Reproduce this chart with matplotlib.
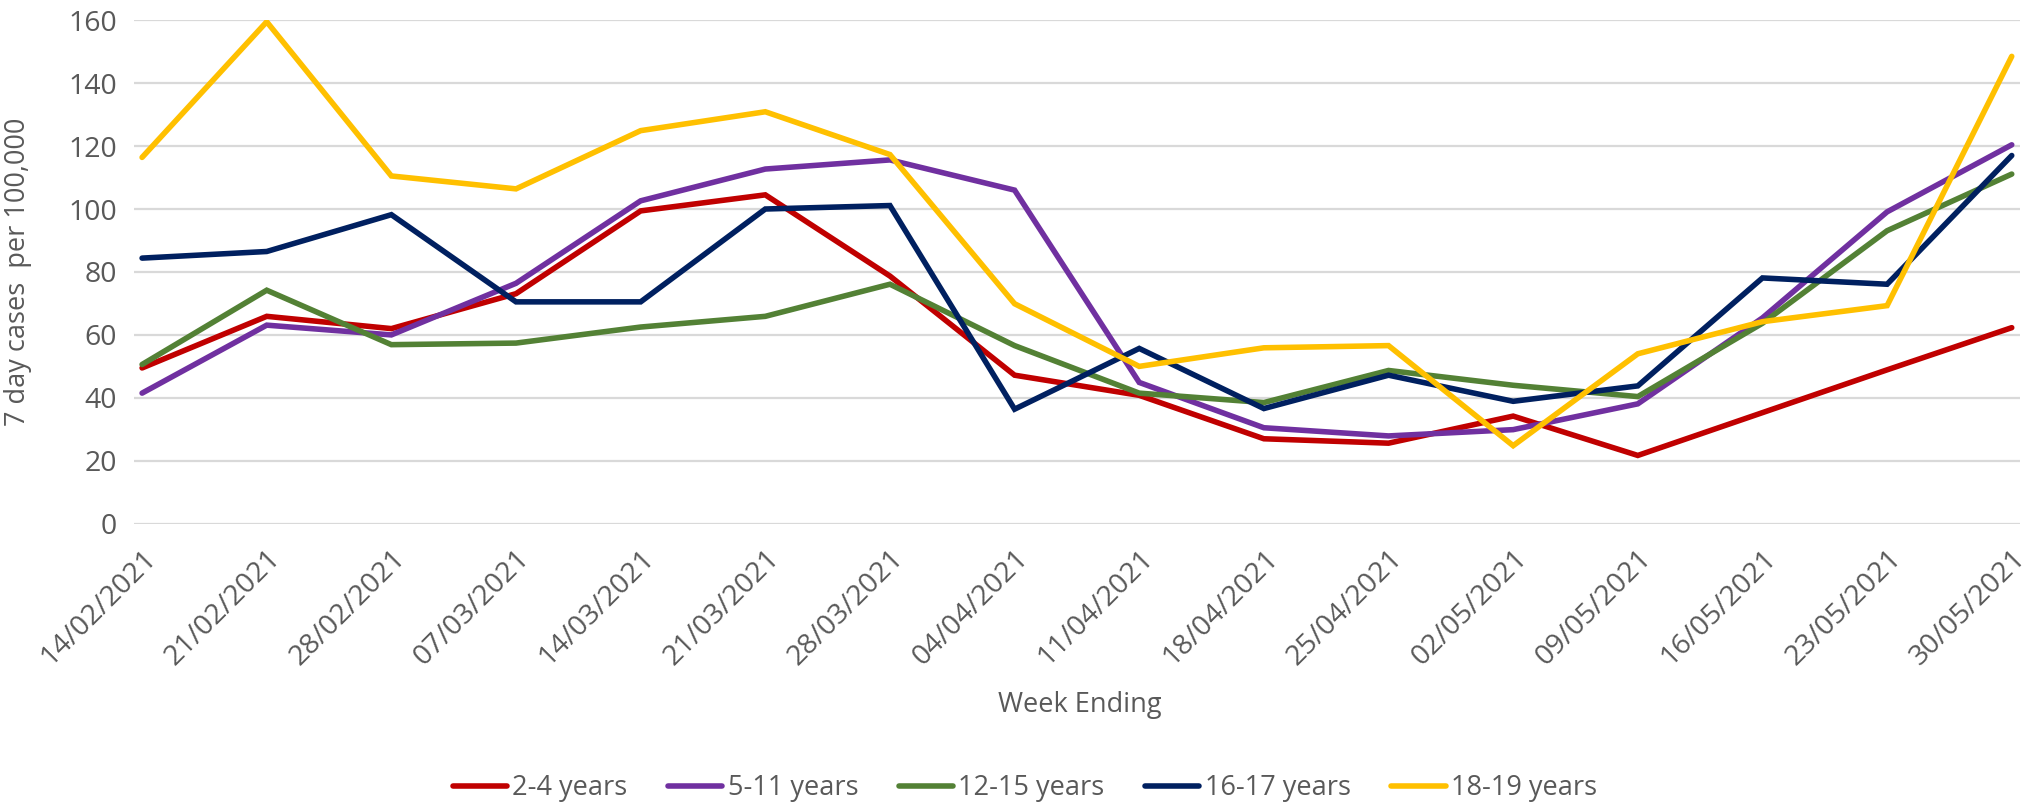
import matplotlib
matplotlib.use("Agg")
import matplotlib.pyplot as plt

plt.rcParams['font.family'] = ['Open Sans', 'DejaVu Sans']

week_ending = ['14/02/2021', '21/02/2021', '28/02/2021', '07/03/2021', '14/03/2021',
               '21/03/2021', '28/03/2021', '04/04/2021', '11/04/2021', '18/04/2021',
               '25/04/2021', '02/05/2021', '09/05/2021', '16/05/2021', '23/05/2021',
               '30/05/2021']

age_2_4 = [49.5, 65.9, 62.0, 73.1, 99.4, 104.5, 78.7, 47.2, 40.8, 27.0,
           25.6, 34.2, 21.7, 35.3, 48.9, 62.3]
age_5_11 = [41.5, 63.1, 60.0, 76.4, 102.6, 112.7, 115.6, 106.0, 44.9, 30.5,
            27.9, 29.9, 38.1, 65.4, 99.1, 120.4]
age_12_15 = [50.6, 74.2, 56.9, 57.4, 62.5, 65.9, 76.1, 56.6, 41.5, 38.5,
             48.7, 44.0, 40.4, 63.7, 93.1, 111.1]
age_16_17 = [84.4, 86.5, 98.2, 70.5, 70.5, 100.0, 101.1, 36.4, 55.7, 36.6,
             47.2, 38.9, 43.8, 78.1, 76.1, 117.0]
age_18_19 = [116.4, 159.5, 110.5, 106.4, 124.9, 130.9, 117.3, 69.9, 50.0, 55.9,
             56.6, 24.8, 54.0, 64.2, 69.3, 148.5]

series = [
    ('2-4 years', age_2_4, '#C00000'),
    ('5-11 years', age_5_11, '#7030A0'),
    ('12-15 years', age_12_15, '#538135'),
    ('16-17 years', age_16_17, '#002060'),
    ('18-19 years', age_18_19, '#FFC000'),
]

text_col = '#595959'
fs = 19.5

fig = plt.figure(figsize=(20.3, 8.07), dpi=100)
ax = fig.add_axes([0.066, 0.351, 0.929, 0.624])

x = list(range(len(week_ending)))
for name, vals, col in series:
    ax.plot(x, vals, color=col, lw=4.0, label=name, solid_capstyle='round', solid_joinstyle='miter')

ax.set_ylim(0, 160)
ax.set_yticks(range(0, 161, 20))
ax.set_xlim(-0.065, 15.065)
ax.set_xticks(x)
ax.set_xticklabels(week_ending, rotation=45, ha='right', rotation_mode='anchor')

# gridlines only, no frame
ax.grid(axis='y', color='#D9D9D9', lw=1.6)
ax.set_axisbelow(True)
for s in ax.spines.values():
    s.set_visible(False)
ax.tick_params(axis='both', length=0, labelsize=fs, colors=text_col)
ax.tick_params(axis='y', pad=12, labelsize=20.5)
ax.tick_params(axis='x', pad=15, labelsize=20.5)

ax.set_ylabel('7 day cases  per 100,000', fontsize=fs, color=text_col)
ax.yaxis.set_label_coords(-0.054, 0.5)
ax.set_xlabel('Week Ending', fontsize=fs, color=text_col)
ax.xaxis.set_label_coords(0.5016, -0.36)
ax.xaxis.label.set_va('center')

ax.legend(loc='center', bbox_to_anchor=(0.4724, -0.525), ncol=5, frameon=False,
          fontsize=fs, labelcolor=text_col, handlelength=2.0, handletextpad=0.2,
          columnspacing=1.5, borderaxespad=0)

fig.savefig('out.png', dpi=100)
